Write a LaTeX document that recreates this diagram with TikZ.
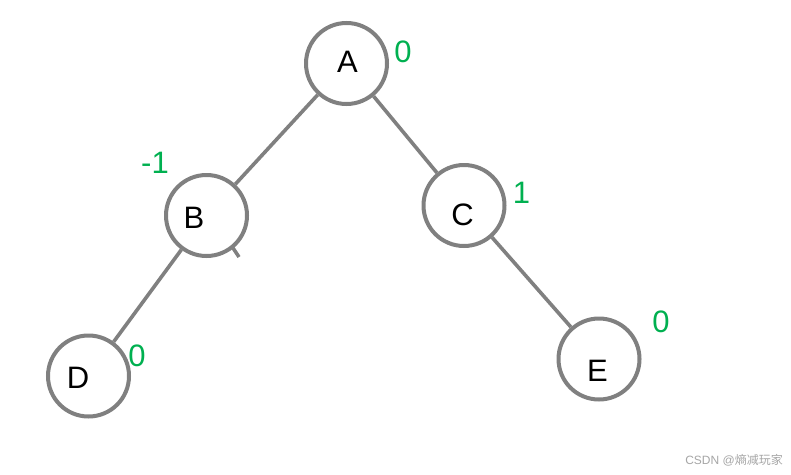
\documentclass[tikz,border=0pt]{standalone}
\usepackage{fontspec}
\setmainfont{Liberation Sans}
\newfontfamily\cjk{Noto Sans CJK SC}
\definecolor{edgegray}{RGB}{128,128,128}
\definecolor{balgreen}{RGB}{0,176,80}
\begin{document}
\begin{tikzpicture}[x=1pt,y=-1pt,
  vnode/.style={circle,draw=edgegray,line width=4pt,minimum size=81pt,inner sep=0pt},
  vlabel/.style={font=\fontsize{31}{31}\selectfont,text=black,inner sep=0pt},
  bal/.style={font=\fontsize{31}{31}\selectfont,text=balgreen,inner sep=0pt},
  edge/.style={draw=edgegray,line width=3.6pt}]
\useasboundingbox (0,0) rectangle (791,474);
\fill[white] (0,0) rectangle (791,474);
\node[vnode] (A) at (346.5,63.5) {};
\node[vnode] (B) at (206.5,215.5) {};
\node[vnode] (C) at (464,205.5) {};
\node[vnode] (D) at (88.5,376) {};
\node[vnode] (E) at (599,359) {};
\node[vlabel] (tA) at (347.5,62) {A};
\node[vlabel] (tB) at (194,218) {B};
\node[vlabel] (tC) at (462.5,214.5) {C};
\node[vlabel] (tD) at (78,377.5) {D};
\node[vlabel] (tE) at (597.5,371) {E};
\node[bal] (bA) at (403,51.5) {0};
\node[bal] (bB) at (155,163) {-1};
\node[bal] (bC) at (521.5,192.5) {1};
\node[bal] (bD) at (137,356) {0};
\node[bal] (bE) at (661,322) {0};
\draw[edge] (A) -- (B);
\draw[edge] (A) -- (C);
\draw[edge] (B) -- (D);
\draw[edge] (C) -- (E);
\coordinate (t1) at (233,248);
\coordinate (t2) at (239,257);
\draw[edge] (t1) -- (t2);
\node[font=\fontsize{12}{12}\selectfont,text=black!35,anchor=east,inner sep=0pt] (wm) at (783,460) {CSDN @{\cjk 熵减玩家}};
\end{tikzpicture}
\end{document}
